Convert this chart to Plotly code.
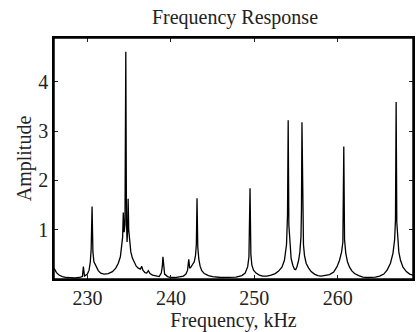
import plotly.graph_objects as go

freq_khz = [
    226.0, 226.3, 226.6, 227.0, 227.5, 228.0, 228.5, 229.0, 229.4, 229.52, 229.65, 230.0,
    230.2, 230.35, 230.45, 230.56, 230.66, 230.78, 230.95, 231.1, 231.3, 231.6, 232.0,
    232.5, 233.0, 233.4, 233.7, 233.95, 234.1, 234.22, 234.3, 234.4, 234.5, 234.6,
    234.68, 234.75, 234.82, 234.88, 234.95, 235.05, 235.2, 235.4, 235.6, 235.85, 236.1,
    236.35, 236.5, 236.65, 236.9, 237.1, 237.3, 237.5, 237.8, 238.2, 238.6, 238.85,
    238.97, 239.05, 239.13, 239.25, 239.6, 240.0, 240.5, 241.0, 241.5, 241.8, 242.0,
    242.14, 242.25, 242.4, 242.6, 242.8, 242.95, 243.05, 243.13, 243.22, 243.35, 243.5,
    243.7, 244.0, 244.5, 245.0, 246.0, 247.0, 247.8, 248.5, 248.9, 249.2, 249.35,
    249.48, 249.58, 249.7, 249.9, 250.2, 250.6, 251.0, 251.5, 252.0, 252.5, 252.9,
    253.3, 253.6, 253.85, 253.97, 254.05, 254.13, 254.25, 254.4, 254.6, 254.8, 254.95,
    255.1, 255.3, 255.45, 255.58, 255.64, 255.7, 255.78, 255.88, 256.0, 256.2, 256.5,
    256.8, 257.2, 257.6, 258.0, 258.5, 259.0, 259.5, 259.9, 260.2, 260.45, 260.6,
    260.71, 260.8, 260.95, 261.15, 261.4, 261.7, 262.0, 262.5, 263.0, 263.5, 264.0,
    264.5, 265.0, 265.5, 265.9, 266.3, 266.6, 266.8, 266.9, 266.98, 267.06, 267.15,
    267.3, 267.5, 267.8, 268.2, 268.6, 269.0,
]
amplitude = [
    0.22, 0.13, 0.08, 0.05, 0.03, 0.02, 0.02, 0.03, 0.05, 0.25, 0.06, 0.10,
    0.18, 0.35, 0.60, 1.47, 0.55, 0.35, 0.28, 0.25, 0.17, 0.12, 0.10,
    0.11, 0.15, 0.22, 0.32, 0.45, 0.62, 0.85, 1.35, 0.95, 1.10, 4.61,
    1.20, 0.75, 1.00, 1.63, 1.00, 0.75, 0.55, 0.42, 0.33, 0.26, 0.22,
    0.20, 0.26, 0.18, 0.13, 0.12, 0.17, 0.11, 0.08, 0.06, 0.05, 0.12,
    0.25, 0.45, 0.20, 0.10, 0.05, 0.03, 0.03, 0.04, 0.06, 0.10, 0.18,
    0.40, 0.22, 0.24, 0.30, 0.35, 0.48, 0.70, 1.64, 0.65, 0.40, 0.26,
    0.17, 0.11, 0.07, 0.05, 0.03, 0.03, 0.04, 0.07, 0.12, 0.25, 0.45,
    1.84, 0.50, 0.28, 0.18, 0.12, 0.08, 0.06, 0.06, 0.08, 0.11, 0.16,
    0.24, 0.38, 0.70, 1.30, 3.22, 1.10, 0.65, 0.42, 0.28, 0.20, 0.19,
    0.25, 0.38, 0.55, 0.85, 1.40, 3.18, 1.20, 0.70, 0.48, 0.32, 0.22,
    0.15, 0.10, 0.07, 0.06, 0.07, 0.09, 0.14, 0.25, 0.38, 0.55, 0.75,
    2.69, 0.80, 0.52, 0.35, 0.24, 0.16, 0.11, 0.07, 0.04, 0.03, 0.03,
    0.04, 0.06, 0.10, 0.18, 0.32, 0.52, 0.80, 1.20, 3.59, 1.15, 0.85,
    0.55, 0.38, 0.24, 0.15, 0.10, 0.08,
]

x_ticks = [230, 240, 250, 260]
y_ticks = [1, 2, 3, 4]

font = "Liberation Serif"
ink = "#222"

fig = go.Figure()
fig.add_trace(go.Scatter(
    x=freq_khz, y=amplitude, mode="lines",
    line=dict(color="black", width=1.3),
    showlegend=False, hoverinfo="skip",
))

axis_common = dict(
    showline=True, linecolor="black", linewidth=1.5, mirror="allticks",
    ticks="inside", ticklen=4, tickcolor=ink, showgrid=False, zeroline=False,
    tickfont=dict(family=font, size=20, color=ink),
)

fig.add_shape(type="rect", xref="paper", yref="paper", x0=0, y0=0, x1=1, y1=1,
              line=dict(color="black", width=1.5), layer="above")

fig.update_layout(
    width=417, height=332,
    margin=dict(l=54, r=2, t=38, b=53),
    paper_bgcolor="white", plot_bgcolor="white",
    title=dict(text="Frequency Response", x=235 / 417, xanchor="center",
               y=1 - 17 / 332, yanchor="middle",
               font=dict(family=font, size=20, color=ink)),
    xaxis=dict(range=[226, 269], tickvals=x_ticks,
               title=dict(text="Frequency, kHz", standoff=0,
                          font=dict(family=font, size=20, color=ink)),
               **axis_common),
    yaxis=dict(range=[0.0, 4.89], tickvals=y_ticks,
               title=dict(text="Amplitude", standoff=1,
                          font=dict(family=font, size=20, color=ink)),
               **axis_common),
)

fig.write_html("out.html", config={"displayModeBar": False},
               post_script="document.body.style.margin='0';")
